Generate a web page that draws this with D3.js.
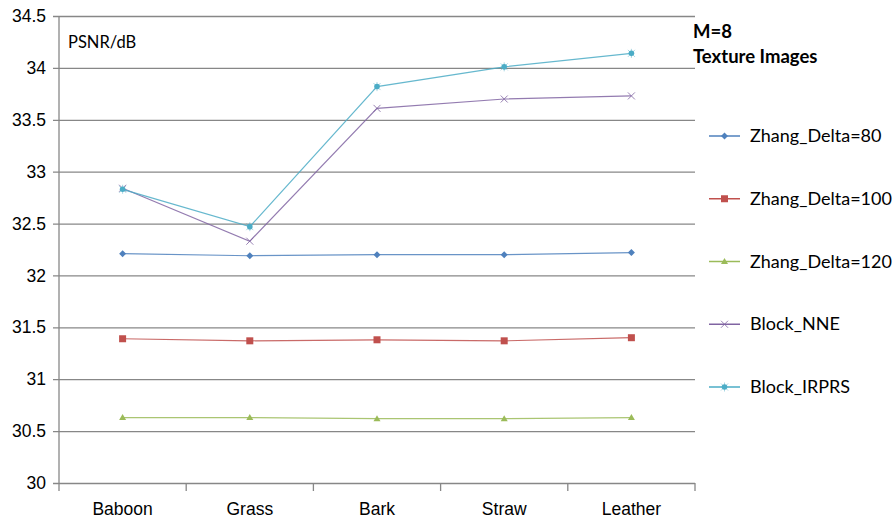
<!DOCTYPE html>
<html>
<head>
<meta charset="utf-8">
<script src="https://cdn.jsdelivr.net/npm/d3@7"></script>
<style>
  html, body { margin: 0; padding: 0; background: #fff; }
  svg { display: block; font-family: Lato, "Open Sans", "Liberation Sans", sans-serif; }
</style>
</head>
<body>
<svg id="chart" width="895" height="521"></svg>
<script>
// PSNR (dB) per texture image, M = 8
const images = ["Baboon", "Grass", "Bark", "Straw", "Leather"];
const seriesNames = ["Zhang_Delta=80", "Zhang_Delta=100", "Zhang_Delta=120", "Block_NNE", "Block_IRPRS"];
const zhang80  = [32.21, 32.19, 32.20, 32.20, 32.22];
const zhang100 = [31.39, 31.37, 31.38, 31.37, 31.40];
const zhang120 = [30.63, 30.63, 30.62, 30.62, 30.63];
const blockNNE = [32.84, 32.33, 33.61, 33.70, 33.73];
const blockIRPRS = [32.83, 32.47, 33.82, 34.01, 34.14];
const yTicks = [30, 30.5, 31, 31.5, 32, 32.5, 33, 33.5, 34, 34.5];

const colors = ["#4F81BD", "#C0504D", "#9BBB59", "#8064A2", "#4BACC6"];
const markers = ["diamond", "square", "triangle", "x", "star"];
const values = [zhang80, zhang100, zhang120, blockNNE, blockIRPRS];

const svg = d3.select("#chart");
const plotLeft = 59, plotRight = 695, plotTop = 16, plotBottom = 483;

const x = d3.scaleBand().domain(images).range([plotLeft, plotRight]).padding(0);
const y = d3.scaleLinear().domain([30, 34.5]).range([plotBottom, plotTop]);

// horizontal gridlines + y axis labels
const yAxis = d3.axisLeft(y).tickValues(yTicks).tickFormat(d3.format(""))
  .tickSizeInner(-(plotRight - plotLeft)).tickSizeOuter(0).tickPadding(13);
const gy = svg.append("g").attr("transform", `translate(${plotLeft},0)`).call(yAxis);
gy.select(".domain").remove();
gy.selectAll(".tick line").attr("x1", -6).attr("stroke", "#878787").attr("stroke-width", 1.3);
gy.selectAll(".tick text").attr("font-size", 17.5).attr("fill", "#000").attr("font-family", "inherit");

// vertical axis line
svg.append("line").attr("x1", plotLeft).attr("x2", plotLeft).attr("y1", plotTop).attr("y2", plotBottom)
  .attr("stroke", "#878787").attr("stroke-width", 1.3);

// category axis
const xAxis = d3.axisBottom(x).tickSize(0).tickPadding(20);
const gx = svg.append("g").attr("transform", `translate(0,${plotBottom})`).call(xAxis);
gx.select(".domain").remove();
gx.selectAll(".tick text").attr("font-size", 17.5).attr("fill", "#000").attr("font-family", "inherit");
const edges = images.map(d => x(d)).concat([plotRight]);
svg.append("g").selectAll("line").data(edges).join("line")
  .attr("x1", d => d).attr("x2", d => d).attr("y1", plotBottom).attr("y2", plotBottom + 8)
  .attr("stroke", "#878787").attr("stroke-width", 1.3);

function drawMarker(g, type, color, cx, cy) {
  if (type === "diamond") {
    g.append("path").attr("d", `M${cx},${cy-3.5}L${cx+3.5},${cy}L${cx},${cy+3.5}L${cx-3.5},${cy}Z`).attr("fill", color);
  } else if (type === "square") {
    g.append("rect").attr("x", cx - 3.5).attr("y", cy - 3.5).attr("width", 7).attr("height", 7).attr("fill", color);
  } else if (type === "triangle") {
    g.append("path").attr("d", `M${cx},${cy-3.5}L${cx+3.5},${cy+2.5}L${cx-3.5},${cy+2.5}Z`).attr("fill", color);
  } else if (type === "x") {
    g.append("path").attr("d", `M${cx-3.5},${cy-3.5}L${cx+3.5},${cy+3.5}M${cx-3.5},${cy+3.5}L${cx+3.5},${cy-3.5}`)
      .attr("stroke", color).attr("stroke-width", 1).attr("opacity", 0.8);
  } else if (type === "star") {
    g.append("path").attr("d", `M${cx-3.5},${cy-3.5}L${cx+3.5},${cy+3.5}M${cx-3.5},${cy+3.5}L${cx+3.5},${cy-3.5}M${cx},${cy-4.5}L${cx},${cy+4.5}`)
      .attr("stroke", color).attr("stroke-width", 0.8).attr("opacity", 0.6);
    g.append("circle").attr("cx", cx).attr("cy", cy).attr("r", 2.8).attr("fill", color);
  }
}

const line = d3.line().x((d, i) => x(images[i]) + x.bandwidth() / 2).y(d => y(d));

values.forEach((vals, s) => {
  const g = svg.append("g");
  g.append("path").datum(vals).attr("d", line).attr("fill", "none")
    .attr("stroke", colors[s]).attr("stroke-width", 1.2).attr("opacity", 0.85);
  vals.forEach((v, i) => drawMarker(g, markers[s], colors[s], x(images[i]) + x.bandwidth() / 2, y(v)));
});

// axis unit label
svg.append("text").attr("x", 68).attr("y", 48).attr("font-size", 16.5).attr("fill", "#000").text("PSNR/dB");

// chart annotation
svg.append("text").attr("x", 693).attr("y", 38).attr("font-size", 18.5).attr("font-weight", "bold").text("M=8");
svg.append("text").attr("x", 693).attr("y", 63).attr("font-size", 18.5).attr("font-weight", "bold").text("Texture Images");

// legend
const legendY = d3.scalePoint().domain(seriesNames).range([136, 387]);
seriesNames.forEach((name, s) => {
  const g = svg.append("g");
  const ly = legendY(name);
  g.append("line").attr("x1", 709).attr("x2", 740).attr("y1", ly).attr("y2", ly)
    .attr("stroke", colors[s]).attr("stroke-width", 1.5);
  drawMarker(g, markers[s], colors[s], 724.5, ly);
  g.append("text").attr("x", 750).attr("y", ly + 6).attr("font-size", 18).attr("fill", "#000").text(name);
});
</script>
</body>
</html>
